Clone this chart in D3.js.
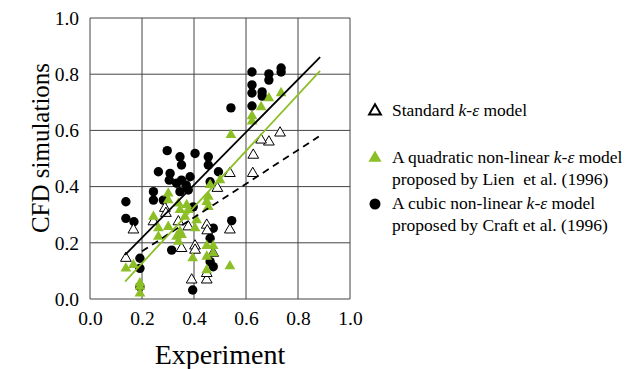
<!DOCTYPE html>
<html>
<head>
<meta charset="utf-8">
<script src="https://cdn.jsdelivr.net/npm/d3@7"></script>
<style>
  body { margin: 0; background: #fff; }
  svg { display: block; }
  text { font-family: "Liberation Serif", "Times New Roman", serif; fill: #000; }
</style>
</head>
<body>
<div id="chart"></div>
<script>
// tick values for both axes
var ticks = [0, 0.2, 0.4, 0.6, 0.8, 1.0];

// Standard k-e model (open triangles) [experiment, cfd]
var standardPts = [
  [0.731,0.591],[0.688,0.559],[0.658,0.566],[0.628,0.512],[0.626,0.447],[0.538,0.447],[0.490,0.394],
  [0.288,0.323],[0.340,0.275],[0.378,0.257],[0.449,0.263],[0.451,0.243],[0.538,0.246],[0.167,0.246],
  [0.244,0.275],[0.352,0.180],[0.404,0.189],[0.404,0.174],[0.138,0.145],[0.474,0.163],[0.391,0.068],
  [0.449,0.068],[0.449,0.091],[0.292,0.305]
];

// Quadratic non-linear model, Lien et al. (green triangles)
var quadraticPts = [
  [0.735,0.733],[0.688,0.715],[0.658,0.683],[0.623,0.651],[0.623,0.632],[0.542,0.584],
  [0.500,0.423],[0.462,0.406],[0.455,0.364],[0.449,0.346],[0.455,0.328],[0.301,0.376],[0.301,0.352],
  [0.340,0.340],[0.372,0.335],[0.378,0.317],[0.346,0.317],[0.365,0.293],[0.244,0.293],[0.410,0.281],
  [0.404,0.252],[0.301,0.257],[0.263,0.252],[0.263,0.222],[0.346,0.240],[0.333,0.222],[0.352,0.228],
  [0.340,0.204],[0.449,0.189],[0.474,0.189],[0.474,0.163],[0.449,0.151],[0.395,0.145],[0.449,0.103],
  [0.538,0.117],[0.138,0.109],[0.167,0.121],[0.192,0.056],[0.192,0.044],[0.192,0.020]
];

// Cubic non-linear model, Craft et al. (black circles)
var cubicPts = [
  [0.623,0.808],[0.623,0.762],[0.623,0.733],[0.662,0.737],[0.662,0.722],[0.688,0.801],[0.688,0.779],
  [0.735,0.822],[0.735,0.808],[0.542,0.680],[0.623,0.687],
  [0.297,0.528],[0.404,0.518],[0.346,0.506],[0.455,0.506],[0.352,0.477],[0.455,0.477],[0.263,0.453],
  [0.308,0.447],[0.494,0.453],[0.385,0.435],[0.305,0.423],[0.352,0.423],[0.333,0.412],[0.462,0.417],
  [0.378,0.388],[0.346,0.382],[0.244,0.382],[0.244,0.352],[0.282,0.352],[0.138,0.346],[0.138,0.287],
  [0.169,0.275],[0.397,0.328],[0.545,0.279],[0.474,0.252],[0.462,0.216],[0.314,0.174],[0.192,0.145],
  [0.192,0.109],[0.192,0.044],[0.474,0.115],[0.462,0.133],[0.395,0.032],[0.370,0.405]
];

// trend lines (end points)
var standardFit = [[0.20,0.170],[0.88,0.578]];
var quadraticFit = [[0.135,0.062],[0.885,0.812]];
var cubicFit = [[0.135,0.157],[0.885,0.861]];

var legendItems = [
  {lines: [["Standard ", ""], ["k-ε", "i"], [" model", ""]], extra: null, sym: "open"},
  {lines: [["A quadratic non-linear ", ""], ["k-ε", "i"], [" model", ""]], extra: "proposed by Lien  et al. (1996)", sym: "green"},
  {lines: [["A cubic non-linear ", ""], ["k-ε", "i"], [" model", ""]], extra: "proposed by Craft et al. (1996)", sym: "circle"}
];

var margin = {top: 18, right: 281, bottom: 70, left: 90},
  width = 631 - margin.left - margin.right,
  height = 369 - margin.top - margin.bottom;

var svg = d3.select("#chart")
  .append("svg")
  .attr("width", 631)
  .attr("height", 369)
  .append("g")
  .attr("transform", "translate(" + margin.left + "," + margin.top + ")");

var x = d3.scaleLinear().domain([0, 1]).range([0, width]);
var y = d3.scaleLinear().domain([0, 1]).range([height, 0]);

var green = "#8cbf26";
var gridColor = "#444";

// grid
svg.append("g")
  .selectAll("line.v")
  .data(ticks)
  .enter().append("line")
  .attr("x1", function(d) { return x(d); })
  .attr("x2", function(d) { return x(d); })
  .attr("y1", 0).attr("y2", height)
  .attr("stroke", gridColor).attr("stroke-width", 1);

svg.append("g")
  .selectAll("line.h")
  .data(ticks)
  .enter().append("line")
  .attr("y1", function(d) { return y(d); })
  .attr("y2", function(d) { return y(d); })
  .attr("x1", 0).attr("x2", width)
  .attr("stroke", gridColor).attr("stroke-width", 1);

// axes (labels only)
var xAxis = svg.append("g")
  .attr("transform", "translate(0," + height + ")")
  .call(d3.axisBottom(x).tickValues(ticks).tickFormat(d3.format(".1f")).tickSize(0).tickPadding(12));
var yAxis = svg.append("g")
  .call(d3.axisLeft(y).tickValues(ticks).tickFormat(d3.format(".1f")).tickSize(0).tickPadding(11));
[xAxis, yAxis].forEach(function(a) {
  a.select(".domain").remove();
  a.attr("font-family", null);
  a.selectAll("text")
    .style("font-family", "'Liberation Serif', 'Times New Roman', serif")
    .style("font-size", "19.5px")
    .attr("fill", "#000");
});

// axis titles
svg.append("text")
  .attr("x", width / 2)
  .attr("y", height + 65)
  .attr("text-anchor", "middle")
  .style("font-size", "28px")
  .text("Experiment");

svg.append("text")
  .attr("transform", "translate(" + (49 - margin.left) + "," + (148 - margin.top) + ") rotate(-90)")
  .attr("text-anchor", "middle")
  .style("font-size", "25px")
  .text("CFD simulations");

var tri = d3.symbol().type(d3.symbolTriangle).size(50);

// cubic circles
svg.append("g")
  .selectAll("circle")
  .data(cubicPts)
  .enter().append("circle")
  .attr("cx", function(d) { return x(d[0]); })
  .attr("cy", function(d) { return y(d[1]); })
  .attr("r", 4.7)
  .attr("fill", "#000");

// standard open triangles
svg.append("g")
  .selectAll("path")
  .data(standardPts)
  .enter().append("path")
  .attr("d", tri)
  .attr("transform", function(d) { return "translate(" + x(d[0]) + "," + y(d[1]) + ")"; })
  .attr("fill", "#fff")
  .attr("stroke", "#000")
  .attr("stroke-width", 1);

// quadratic green triangles
svg.append("g")
  .selectAll("path")
  .data(quadraticPts)
  .enter().append("path")
  .attr("d", tri)
  .attr("transform", function(d) { return "translate(" + x(d[0]) + "," + y(d[1]) + ")"; })
  .attr("fill", green);

// trend lines
var line = d3.line()
  .x(function(d) { return x(d[0]); })
  .y(function(d) { return y(d[1]); });

svg.append("path").datum(standardFit)
  .attr("fill", "none").attr("stroke", "#000").attr("stroke-width", 1.8)
  .attr("stroke-dasharray", "7,5")
  .attr("d", line);
svg.append("path").datum(quadraticFit)
  .attr("fill", "none").attr("stroke", green).attr("stroke-width", 1.8)
  .attr("d", line);
svg.append("path").datum(cubicFit)
  .attr("fill", "none").attr("stroke", "#000").attr("stroke-width", 1.8)
  .attr("d", line);

// legend
var legend = d3.select("svg").append("g");
var rowY = [116, 163, 209];
legendItems.forEach(function(item, i) {
  var cy = rowY[i] - 5;
  if (item.sym === "open") {
    legend.append("path").attr("d", d3.symbol().type(d3.symbolTriangle).size(60))
      .attr("transform", "translate(375," + cy + ")")
      .attr("fill", "#fff").attr("stroke", "#000").attr("stroke-width", 2);
  } else if (item.sym === "green") {
    legend.append("path").attr("d", d3.symbol().type(d3.symbolTriangle).size(75))
      .attr("transform", "translate(375," + cy + ")")
      .attr("fill", green);
  } else {
    legend.append("circle").attr("cx", 375).attr("cy", cy).attr("r", 5.5).attr("fill", "#000");
  }
  var t = legend.append("text").attr("x", 392).attr("y", rowY[i]).style("font-size", "17.5px")
    .attr("xml:space", "preserve").style("white-space", "pre");
  item.lines.forEach(function(p) {
    t.append("tspan").style("font-style", p[1] === "i" ? "italic" : "normal").text(p[0]);
  });
  if (item.extra) {
    legend.append("text").attr("x", 392).attr("y", rowY[i] + 22).style("font-size", "17.5px")
      .style("white-space", "pre").text(item.extra);
  }
});
</script>
</body>
</html>
